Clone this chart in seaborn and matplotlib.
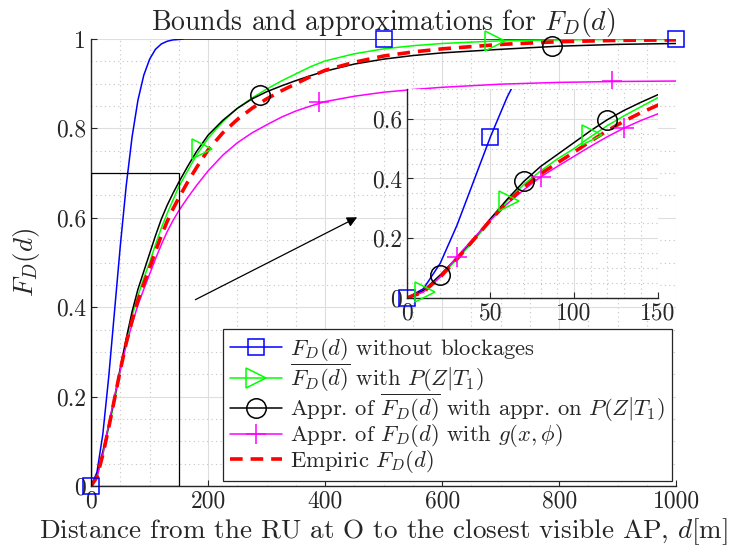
import matplotlib
matplotlib.use("Agg")
import matplotlib.pyplot as plt
import matplotlib.patches as patches
from matplotlib.lines import Line2D
from matplotlib.ticker import MultipleLocator, FormatStrFormatter
import seaborn as sns

# distance grid [m]
d = [0, 10, 20, 30, 40, 50, 60, 70, 80, 90, 100, 110, 120, 130, 140, 150,
     165, 180, 200, 225, 250, 275, 300, 325, 350, 375, 400, 450, 500, 550,
     600, 700, 800, 900, 1000]

# blue: without blockages
d_free = [0, 10, 20, 30, 40, 50, 60, 70, 80, 90, 100, 110, 120, 130, 140, 150,
          160, 200, 300, 500, 700, 1000]
F_free = [0, 0.031, 0.116, 0.243, 0.391, 0.539, 0.672, 0.781, 0.863, 0.919, 0.955,
          0.977, 0.989, 0.995, 0.998, 0.999, 1.0, 1.0, 1.0, 1.0, 1.0, 1.0]

F_upper = [0, 0.02, 0.07, 0.13, 0.19, 0.26, 0.325, 0.38, 0.425, 0.465, 0.5, 0.54,
           0.577, 0.61, 0.64, 0.67, 0.705, 0.74, 0.778, 0.815, 0.845, 0.868, 0.888,
           0.906, 0.922, 0.938, 0.951, 0.967, 0.978, 0.985, 0.99, 0.996, 0.998,
           0.999, 0.999]
F_appr = [0, 0.025, 0.077, 0.135, 0.197, 0.265, 0.33, 0.39, 0.44, 0.48, 0.52, 0.56,
          0.597, 0.628, 0.655, 0.68, 0.715, 0.748, 0.785, 0.818, 0.845, 0.866, 0.882,
          0.895, 0.907, 0.918, 0.928, 0.944, 0.955, 0.963, 0.969, 0.977, 0.984,
          0.988, 0.99]
F_g = [0, 0.02, 0.07, 0.138, 0.2, 0.26, 0.315, 0.362, 0.405, 0.44, 0.474, 0.508,
       0.54, 0.569, 0.594, 0.616, 0.645, 0.672, 0.705, 0.74, 0.768, 0.79, 0.808,
       0.825, 0.839, 0.85, 0.86, 0.872, 0.881, 0.887, 0.892, 0.899, 0.903,
       0.905, 0.906]
F_emp = [0, 0.02, 0.07, 0.13, 0.195, 0.26, 0.32, 0.37, 0.415, 0.452, 0.488, 0.525,
         0.56, 0.592, 0.62, 0.645, 0.68, 0.712, 0.752, 0.79, 0.82, 0.845, 0.866,
         0.884, 0.9, 0.916, 0.93, 0.948, 0.962, 0.971, 0.978, 0.988, 0.994,
         0.997, 0.998]

# marker positions, main axes
mk_free_d, mk_free_F = [0, 500, 1000], [0, 1, 1]
mk_upper_d, mk_upper_F = [190, 690], [0.755, 0.996]
mk_appr_d, mk_appr_F = [288, 788], [0.875, 0.985]
mk_g_d, mk_g_F = [390, 890], [0.858, 0.907]

# marker positions, inset
in_free_d, in_free_F = [0, 50], [0, 0.54]
in_upper_d, in_upper_F = [11, 61, 111], [0.021, 0.326, 0.546]
in_appr_d, in_appr_F = [20, 70, 120], [0.077, 0.39, 0.597]
in_g_d, in_g_F = [30, 80, 130], [0.138, 0.405, 0.569]

labels = [r"$F_D(d)$ without blockages",
          r"$\overline{F_D(d)}$ with $P(Z|T_1)$",
          r"Appr. of $\overline{F_D(d)}$ with appr. on $P(Z|T_1)$",
          r"Appr. of $F_D(d)$ with $g(x,\phi)$",
          r"Empiric $F_D(d)$"]

sns.set_style("ticks")
plt.rcParams["font.family"] = ["cmr10", "DejaVu Serif"]
plt.rcParams["mathtext.fontset"] = "cm"
plt.rcParams["axes.formatter.use_mathtext"] = True
plt.rcParams["axes.unicode_minus"] = False

AX_C = "#262626"
BLUE, GREEN, MAG, RED = "#0000ff", "#00ff00", "#ff00ff", "#ff0000"
LW = 1.1
TICK_FS = 17


def style_axes(ax, fs):
    sns.despine(ax=ax, top=True, right=True)
    for s in ("left", "bottom"):
        ax.spines[s].set_color(AX_C)
        ax.spines[s].set_linewidth(1.0)
    ax.grid(True, which="major", color="#dedede", linewidth=0.8)
    ax.grid(True, which="minor", color="#c4c4c4", linestyle=(0, (1, 3)), linewidth=0.8)
    ax.set_axisbelow(True)
    ax.tick_params(which="major", direction="in", length=4, width=0.8, colors=AX_C,
                   labelsize=fs, top=False, right=False)
    ax.tick_params(which="minor", length=0)
    ax.yaxis.set_major_formatter(FormatStrFormatter("%g"))
    ax.xaxis.set_major_formatter(FormatStrFormatter("%g"))


def draw_curves(ax, sets):
    sns.lineplot(x=d_free, y=F_free, ax=ax, color=BLUE, linewidth=LW)
    sns.lineplot(x=d, y=F_upper, ax=ax, color=GREEN, linewidth=LW)
    sns.lineplot(x=d, y=F_appr, ax=ax, color="k", linewidth=LW)
    sns.lineplot(x=d, y=F_g, ax=ax, color=MAG, linewidth=LW)
    sns.lineplot(x=d, y=F_emp, ax=ax, color=RED, linewidth=2.6, linestyle=(0, (3.5, 2.2)))
    mk = [("s", BLUE, 12), (">", GREEN, 14), ("o", "k", 14), ("+", MAG, 15)]
    for (xs, ys), (m, c, ms) in zip(sets, mk):
        ax.plot(xs, ys, linestyle="none", marker=m, markersize=ms, markerfacecolor="none",
                markeredgecolor=c, markeredgewidth=1.1, clip_on=False, zorder=5)


fig = plt.figure(figsize=(7.29, 5.59), dpi=100)
ax = fig.add_axes([0.125, 0.1306, 0.8025, 0.7996])
draw_curves(ax, [(mk_free_d, mk_free_F), (mk_upper_d, mk_upper_F),
                 (mk_appr_d, mk_appr_F), (mk_g_d, mk_g_F)])
ax.set_xlim(0, 1000)
ax.set_ylim(0, 1)
ax.set_xticks([0, 200, 400, 600, 800, 1000])
ax.set_yticks([0, 0.2, 0.4, 0.6, 0.8, 1])
ax.xaxis.set_minor_locator(MultipleLocator(50))
ax.yaxis.set_minor_locator(MultipleLocator(0.05))
style_axes(ax, TICK_FS)
ax.set_title(r"Bounds and approximations for $F_D(d)$", fontsize=20, pad=3)
ax.set_xlabel(r"Distance from the RU at O to the closest visible AP, $d$[m]",
              fontsize=19.5, color=AX_C, labelpad=2)
ax.set_ylabel(r"$F_D(d)$", fontsize=19.5, color=AX_C, labelpad=10)

ax.add_patch(patches.Rectangle((0, 0), 150, 0.7, fill=False, edgecolor="k", linewidth=0.9, zorder=4))
ax.annotate("", xy=(459, 0.604), xytext=(174, 0.414),
            arrowprops=dict(arrowstyle="-|>", color="k", lw=0.9, mutation_scale=15))

handles = [
    Line2D([], [], color=BLUE, lw=LW, marker="s", ms=12, mfc="none", mew=1.1),
    Line2D([], [], color=GREEN, lw=LW, marker=">", ms=14, mfc="none", mew=1.1),
    Line2D([], [], color="k", lw=LW, marker="o", ms=14, mfc="none", mew=1.1),
    Line2D([], [], color=MAG, lw=LW, marker="+", ms=15, mfc="none", mew=1.1),
    Line2D([], [], color=RED, lw=2.6, linestyle=(0, (3.5, 2.2))),
]
leg = ax.legend(handles, labels, loc="lower right", fontsize=16.3, frameon=True,
                fancybox=False, framealpha=1, edgecolor=AX_C, borderaxespad=0.2,
                handlelength=2.3, handletextpad=0.35, labelspacing=-0.08, borderpad=0.3)
leg.get_frame().set_linewidth(0.9)

axin = fig.add_axes([0.558, 0.467, 0.344, 0.374])
axin.set_facecolor("white")
draw_curves(axin, [(in_free_d, in_free_F), (in_upper_d, in_upper_F),
                   (in_appr_d, in_appr_F), (in_g_d, in_g_F)])
axin.set_xlim(0, 150)
axin.set_ylim(0, 0.7)
axin.set_xticks([0, 50, 100, 150])
axin.set_yticks([0, 0.2, 0.4, 0.6])
axin.xaxis.set_minor_locator(MultipleLocator(10))
axin.yaxis.set_minor_locator(MultipleLocator(0.05))
style_axes(axin, TICK_FS)

fig.savefig("out.png", dpi=100)
